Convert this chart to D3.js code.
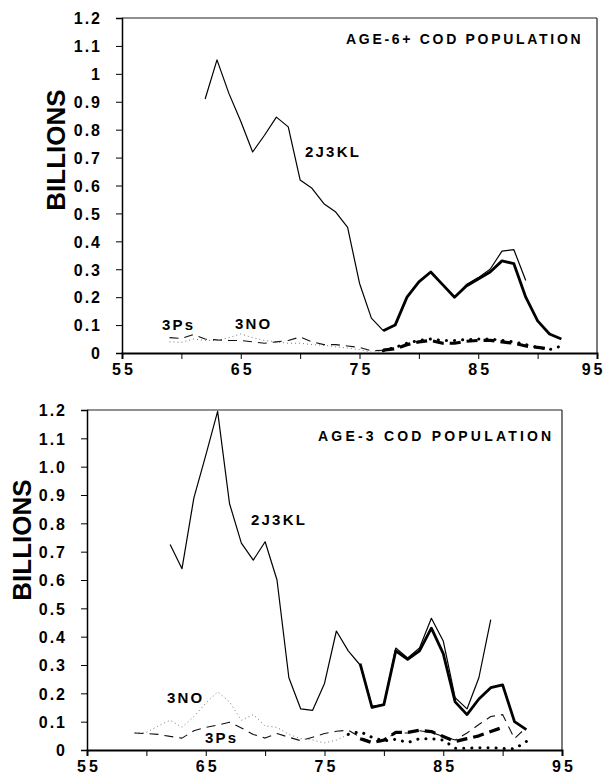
<!DOCTYPE html>
<html><head><meta charset="utf-8">
<script src="https://cdn.jsdelivr.net/npm/d3@7"></script>
<style>body{margin:0;background:#fff}svg{display:block}text{font-family:"Liberation Sans",Arial,sans-serif;font-weight:bold;fill:#000}</style>
</head><body><svg id="c" width="606" height="777"></svg>
<script>
// ---------- DATA ----------
const xTickValues = [55,60,65,70,75,80,85,90,95];
const xTickLabels = ["55","","65","","75","","85","","95"];
const yTickValues = [0,0.1,0.2,0.3,0.4,0.5,0.6,0.7,0.8,0.9,1.0,1.1,1.2];
const topYTickLabels = ["0","0.1","0.2","0.3","0.4","0.5","0.6","0.7","0.8","0.9","1","1.1","1.2"];
const botYTickLabels = ["0","0.1","0.2","0.3","0.4","0.5","0.6","0.7","0.8","0.9","1.0","1.1","1.2"];

// Top panel: AGE-6+ COD POPULATION
const top2J3KLYears = d3.range(62,90);
const top2J3KL = [0.91,1.05,0.93,0.83,0.72,0.78,0.845,0.81,0.62,0.59,0.535,0.505,0.45,0.25,0.125,0.08,0.10,0.20,0.255,0.29,0.245,0.20,0.245,0.27,0.30,0.365,0.37,0.26];
const top2J3KLThickYears = d3.range(77,93);
const top2J3KLThick = [0.08,0.10,0.20,0.255,0.29,0.245,0.20,0.24,0.265,0.29,0.33,0.32,0.20,0.115,0.068,0.05];
const top3PsYears = d3.range(59,78);
const top3Ps = [0.055,0.052,0.066,0.05,0.047,0.045,0.045,0.04,0.035,0.04,0.045,0.057,0.04,0.03,0.03,0.025,0.02,0.008,0.01];
const top3NOYears = d3.range(59,78);
const top3NO = [0.04,0.038,0.05,0.045,0.045,0.055,0.068,0.055,0.045,0.04,0.035,0.035,0.03,0.028,0.022,0.018,0.012,0.003,0.005];
const top3PsThickYears = d3.range(77,92);
const top3PsThick = [0.01,0.015,0.03,0.04,0.045,0.035,0.035,0.042,0.045,0.045,0.04,0.035,0.025,0.02,0.015];
const top3NOThickYears = d3.range(77,93);
const top3NOThick = [0.008,0.02,0.035,0.045,0.05,0.045,0.045,0.048,0.05,0.05,0.045,0.04,0.03,0.02,0.012,0.025];

// Bottom panel: AGE-3 COD POPULATION
const bot2J3KLYears = d3.range(62,90);
const bot2J3KL = [0.725,0.64,0.89,1.04,1.195,0.87,0.73,0.67,0.735,0.60,0.255,0.145,0.14,0.235,0.42,0.35,0.30,0.155,0.16,0.36,0.325,0.36,0.465,0.385,0.185,0.145,0.255,0.46];
const bot2J3KLThickYears = d3.range(78,93);
const bot2J3KLThick = [0.305,0.15,0.16,0.35,0.32,0.35,0.43,0.34,0.17,0.125,0.18,0.22,0.23,0.10,0.072];
const bot3PsYears = d3.range(59,93);
const bot3Ps = [0.06,0.058,0.055,0.048,0.042,0.068,0.08,0.088,0.098,0.078,0.055,0.042,0.058,0.045,0.033,0.045,0.058,0.066,0.07,0.045,0.03,0.035,0.06,0.06,0.068,0.062,0.048,0.035,0.06,0.09,0.118,0.125,0.04,0.08];
const bot3PsThickYears = d3.range(78,91);
const bot3PsThick = [0.04,0.026,0.035,0.062,0.062,0.07,0.065,0.048,0.03,0.04,0.05,0.065,0.08];
const bot3NOYears = d3.range(59,78);
const bot3NO = [0.06,0.062,0.085,0.105,0.08,0.118,0.165,0.205,0.17,0.105,0.125,0.085,0.08,0.055,0.04,0.035,0.025,0.035,0.055];
const bot3NOThickYears = d3.range(77,93);
const bot3NOThick = [0.055,0.065,0.045,0.032,0.038,0.026,0.04,0.04,0.035,0.006,0.006,0.008,0.008,0.005,0.004,0.03];

// ---------- DRAW ----------
const svg = d3.select("#c");
svg.append("rect").attr("width",606).attr("height",777).attr("fill","#fff");

const styles = {
  thin:      {w:1.2, dash:null, cap:"butt", color:"#000"},
  thick:     {w:2.8, dash:null, cap:"butt", color:"#000"},
  dashed:    {w:1.1, dash:"9,6", cap:"butt", color:"#111"},
  dotted:    {w:1.0, dash:"1,3", cap:"butt", color:"#777"},
  thickDash: {w:3.2, dash:"11,6", cap:"butt", color:"#000"},
  thickDot:  {w:3.0, dash:"0.1,8", cap:"round", color:"#000"}
};

function panel(cfg){
  const x = d3.scaleLinear().domain([55,95]).range([cfg.x0,cfg.x1]);
  const y = d3.scaleLinear().domain([0,1.2]).range([cfg.y0,cfg.y1]);
  const g = svg.append("g");
  // frame (top & right)
  g.append("line").attr("x1",cfg.x0).attr("x2",cfg.x1).attr("y1",cfg.y1).attr("y2",cfg.y1).attr("stroke","#222").attr("stroke-width",1.2);
  g.append("line").attr("x1",cfg.x1).attr("x2",cfg.x1).attr("y1",cfg.y1).attr("y2",cfg.y0).attr("stroke","#222").attr("stroke-width",1.2);

  const ya = d3.axisLeft(y).tickValues(yTickValues).tickSize(6).tickPadding(14)
     .tickFormat((d,i)=>cfg.yLabels[i]);
  const yg = g.append("g").attr("transform",`translate(${cfg.x0},0)`).call(ya);
  yg.select(".domain").attr("stroke-width",1.5);
  yg.selectAll("text").style("font-size","16px").style("letter-spacing","2px").attr("dy","0.36em");

  const xa = d3.axisBottom(x).tickValues(xTickValues).tickSize(6).tickPadding(5)
     .tickFormat((d,i)=>xTickLabels[i]);
  const xg = g.append("g").attr("transform",`translate(0,${cfg.y0})`).call(xa);
  xg.select(".domain").attr("stroke-width",2);
  xg.selectAll("text").style("font-size","16px").style("letter-spacing","3px").attr("dx","1.5px");
  if(cfg.lastLabelEnd){
    xg.selectAll(".tick text").filter(d=>d===95)
      .attr("text-anchor","end").attr("dx",null).attr("x",cfg.lastLabelEnd-cfg.x1);
  }

  const line = d3.line().x(d=>x(d[0])).y(d=>y(d[1]));
  cfg.series.forEach(s=>{
    const st = styles[s.style];
    const p = g.append("path").datum(s.years.map((yr,i)=>[yr,s.values[i]]))
      .attr("d",line).attr("fill","none").attr("stroke",st.color)
      .attr("stroke-width",st.w).attr("stroke-linejoin","round").attr("stroke-linecap",st.cap);
    if(st.dash) p.attr("stroke-dasharray",st.dash);
  });

  // y title
  g.append("text").attr("transform",`translate(${cfg.ylx},${cfg.yly}) rotate(-90)`)
    .attr("text-anchor","middle").attr("dominant-baseline","central")
    .style("font-size","26px").text("BILLIONS");
  // panel title
  g.append("text").attr("x",cfg.tx).attr("y",cfg.ty).attr("text-anchor","start")
    .style("font-size","14px").style("letter-spacing",cfg.tls+"px").text(cfg.title);
  cfg.labels.forEach(l=>{
    g.append("text").attr("x",l.x).attr("y",l.y).style("font-size","15px")
      .style("letter-spacing","2.2px").text(l.t);
  });
}

panel({
  x0:122, x1:597, y0:353, y1:18, yLabels:topYTickLabels, lastLabelEnd:605,
  ylx:56, yly:150, title:"AGE-6+ COD POPULATION", tx:346, ty:44, tls:2.7,
  series:[
    {years:top3NOYears, values:top3NO, style:"dotted"},
    {years:top3PsYears, values:top3Ps, style:"dashed"},
    {years:top3NOThickYears, values:top3NOThick, style:"thickDot"},
    {years:top3PsThickYears, values:top3PsThick, style:"thickDash"},
    {years:top2J3KLYears, values:top2J3KL, style:"thin"},
    {years:top2J3KLThickYears, values:top2J3KLThick, style:"thick"}
  ],
  labels:[{t:"2J3KL",x:305,y:157},{t:"3Ps",x:162,y:330},{t:"3NO",x:235,y:329}]
});

panel({
  x0:87, x1:562, y0:750, y1:410, yLabels:botYTickLabels, lastLabelEnd:null,
  ylx:22, yly:540, title:"AGE-3 COD POPULATION", tx:318, ty:441, tls:3.2,
  series:[
    {years:bot3NOYears, values:bot3NO, style:"dotted"},
    {years:bot3PsYears, values:bot3Ps, style:"dashed"},
    {years:bot3NOThickYears, values:bot3NOThick, style:"thickDot"},
    {years:bot3PsThickYears, values:bot3PsThick, style:"thickDash"},
    {years:bot2J3KLYears, values:bot2J3KL, style:"thin"},
    {years:bot2J3KLThickYears, values:bot2J3KLThick, style:"thick"}
  ],
  labels:[{t:"2J3KL",x:251,y:525},{t:"3NO",x:167,y:703},{t:"3Ps",x:205,y:743}]
});
</script></body></html>
